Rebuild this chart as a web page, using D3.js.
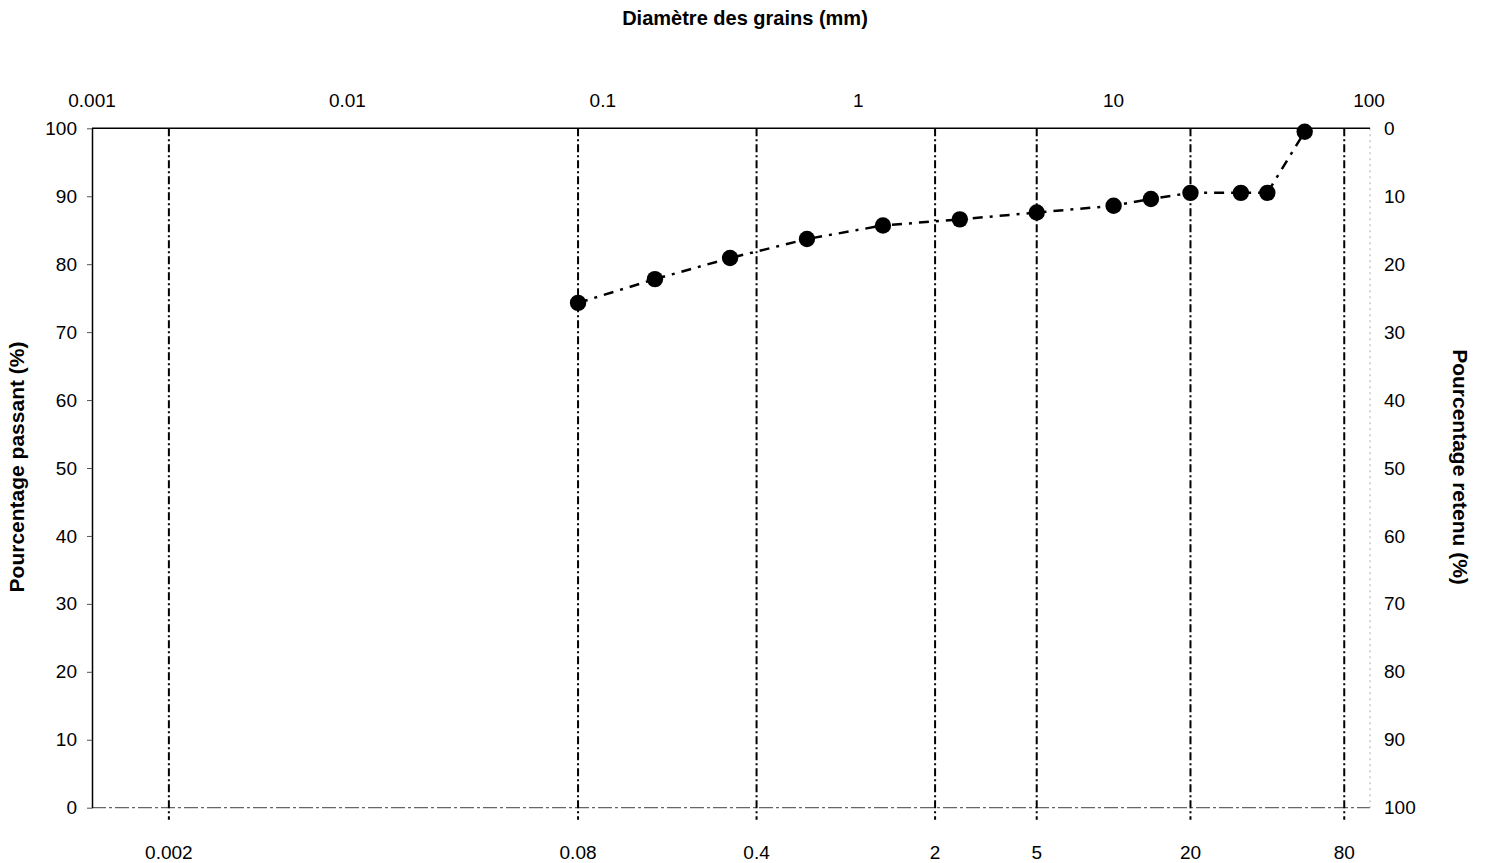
<!DOCTYPE html>
<html>
<head>
<meta charset="utf-8">
<script src="https://cdnjs.cloudflare.com/ajax/libs/d3/7.8.5/d3.min.js"></script>
<style>
  body { margin: 0; background: #fff; }
  svg { font-family: "Liberation Sans", Arial, sans-serif; }
</style>
</head>
<body>
<svg id="chart" width="1485" height="863"></svg>
<script>
// Data
const sieveSizes = [0.08, 0.16, 0.315, 0.63, 1.25, 2.5, 5, 10, 14, 20, 31.5, 40, 56];
const passing = [74.3, 77.8, 80.9, 83.7, 85.7, 86.6, 87.6, 88.6, 89.6, 90.5, 90.5, 90.5, 99.5];
const limitLines = [0.002, 0.08, 0.4, 2, 5, 20, 80];
const topTicks = [0.001, 0.01, 0.1, 1, 10, 100];
const yTicks = [0, 10, 20, 30, 40, 50, 60, 70, 80, 90, 100];

const svg = d3.select('#chart');
const plotLeft = 92, plotRight = 1369, plotTop = 128.3, plotBottom = 807.7;
const tickFont = 19;

const x = d3.scaleLog().domain([0.001, 100]).range([plotLeft, plotRight]);
const y = d3.scaleLinear().domain([0, 100]).range([plotBottom, plotTop]);
const yRight = d3.scaleLinear().domain([100, 0]).range([plotBottom, plotTop]);

// frame: faint bottom & right, solid top & left
svg.append('line')
    .attr('x1', plotLeft).attr('x2', plotRight + 1).attr('y1', plotBottom).attr('y2', plotBottom)
    .attr('stroke', '#666').attr('stroke-width', 1.2)
    .attr('stroke-dasharray', '14,3,3,3');
svg.append('line')
    .attr('x1', plotRight + 1).attr('x2', plotRight + 1).attr('y1', plotTop).attr('y2', plotBottom)
    .attr('stroke', '#aaa').attr('stroke-width', 1)
    .attr('stroke-dasharray', '2,4');
svg.append('line')
    .attr('x1', plotLeft).attr('x2', plotRight + 1).attr('y1', plotTop).attr('y2', plotTop)
    .attr('stroke', '#000').attr('stroke-width', 1.5);

// vertical limit lines
svg.selectAll('.limit')
    .data(limitLines)
    .enter()
    .append('line')
    .attr('class', 'limit')
    .attr('x1', d => x(d)).attr('x2', d => x(d))
    .attr('y1', plotTop).attr('y2', plotBottom + 12)
    .attr('stroke', '#000').attr('stroke-width', 2)
    .attr('stroke-dasharray', '8,3,2,3');

// left axis
const leftAxis = svg.append('g')
    .attr('transform', `translate(${plotLeft},0)`)
    .call(d3.axisLeft(y).tickValues(yTicks).tickSize(5).tickSizeOuter(0).tickPadding(10));
leftAxis.select('.domain').attr('stroke', '#000').attr('stroke-width', 1.5);
leftAxis.selectAll('.tick line').attr('stroke', '#555');
leftAxis.selectAll('text').attr('font-size', tickFont).attr('fill', '#000');

// right axis
const rightAxis = svg.append('g')
    .attr('transform', `translate(${plotRight + 1},0)`)
    .call(d3.axisRight(yRight).tickValues(yTicks).tickSize(0).tickPadding(14));
rightAxis.select('.domain').remove();
rightAxis.selectAll('text').attr('font-size', tickFont).attr('fill', '#000');

// top axis labels
svg.selectAll('.top-label')
    .data(topTicks)
    .enter()
    .append('text')
    .attr('x', d => x(d))
    .attr('y', 107)
    .attr('text-anchor', 'middle')
    .attr('font-size', tickFont)
    .text(d => d);

// bottom labels under limit lines
svg.selectAll('.bottom-label')
    .data(limitLines)
    .enter()
    .append('text')
    .attr('x', d => x(d))
    .attr('y', 859)
    .attr('text-anchor', 'middle')
    .attr('font-size', tickFont)
    .text(d => d);

// grading curve
const pts = sieveSizes.map((s, i) => ({ s, p: passing[i] }));
const line = d3.line().x(d => x(d.s)).y(d => y(d.p));
svg.append('path')
    .datum(pts)
    .attr('fill', 'none')
    .attr('stroke', '#000')
    .attr('stroke-width', 2.5)
    .attr('stroke-dasharray', '10,7,3,7')
    .attr('d', line);

svg.selectAll('.pt')
    .data(pts)
    .enter()
    .append('circle')
    .attr('cx', d => x(d.s))
    .attr('cy', d => y(d.p))
    .attr('r', 8.2)
    .attr('fill', '#000');

// titles
svg.append('text')
    .attr('x', 745).attr('y', 25)
    .attr('text-anchor', 'middle')
    .attr('font-size', 20).attr('font-weight', 'bold')
    .text('Diamètre des grains (mm)');

svg.append('text')
    .attr('transform', 'translate(24,467) rotate(-90)')
    .attr('text-anchor', 'middle')
    .attr('font-size', 21).attr('font-weight', 'bold')
    .text('Pourcentage passant (%)');

svg.append('text')
    .attr('transform', 'translate(1453,467) rotate(90)')
    .attr('text-anchor', 'middle')
    .attr('font-size', 21).attr('font-weight', 'bold')
    .text('Pourcentage retenu (%)');
</script>
</body>
</html>
